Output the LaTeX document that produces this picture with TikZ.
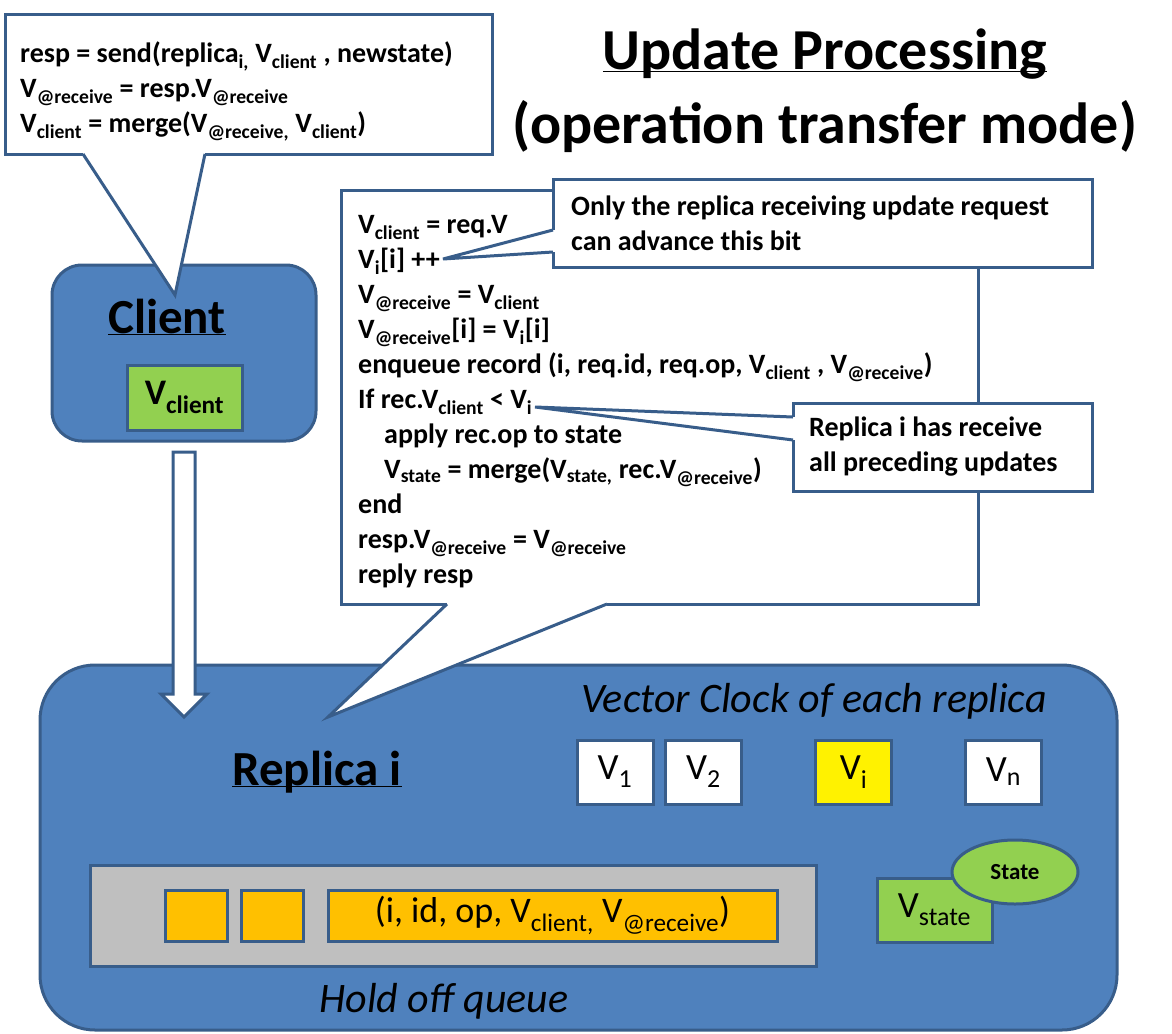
\documentclass[tikz,border=0pt]{standalone}
\usepackage{fontspec}
\setmainfont{Carlito}
\usetikzlibrary{shapes.geometric,shapes.arrows,calc}
\definecolor{boxblue}{HTML}{4F81BD}
\definecolor{lineblue}{HTML}{385D8A}
\definecolor{vgreen}{HTML}{92D050}
\definecolor{qorange}{HTML}{FFC000}
\definecolor{qgray}{HTML}{BFBFBF}
\newcommand{\lo}[1]{\textsubscript{#1}}
\newcommand{\underl}[1]{\underline{\smash{#1}}}

\begin{document}
\begin{tikzpicture}[x=1pt,y=-1pt]
      \tikzset{edge/.style={draw=lineblue, line width=3pt, outer sep=0pt},
        roundbox/.style={edge, fill=boxblue, rounded corners=#1, anchor=north west},
        callbox/.style={edge, fill=white, anchor=north west},
        cell/.style={edge, fill=#1, minimum width=76pt, minimum height=64pt,
          font=\fontsize{37}{40}\selectfont},
        slot/.style={edge, fill=qorange, minimum width=62pt, minimum height=51pt},
        codetext/.style={align=left, inner sep=0pt, font=\bfseries\fontsize{28}{35}\selectfont},
        bigname/.style={font=\bfseries\fontsize{49}{52}\selectfont},
        titletext/.style={font=\bfseries\fontsize{58}{64}\selectfont},
        note/.style={font=\itshape\fontsize{42}{46}\selectfont}
      }
      \useasboundingbox (0,0) rectangle (1172,1033);

      % replica i
      \node [roundbox=55pt, minimum width=1077pt, minimum height=365pt] (replica) at (40,665) {};
      \node [bigname, anchor=base] (replicaname) at (317,785) {\underl{Replica i}};
      \node [note, anchor=base] (clocklabel) at (814,712) {Vector Clock of each replica};
      \node [cell=white] (v1) at (615,772) {V\lo{1}};
      \node [cell=white] (v2) at (703.5,772) {V\lo{2}};
      \node [cell=yellow] (vi) at (853.5,772) {V\lo{i}};
      \node [cell=white] (vn) at (1003.5,772) {V\lo{n}};
      \node [edge, fill=qgray, minimum width=726pt, minimum height=101pt] (queue) at (453,915.5) {};
      \node [slot] (slot1) at (196,915.5) {};
      \node [slot] (slot2) at (272,915.5) {};
      \node [slot, minimum width=449pt, font=\fontsize{36}{38}\selectfont] (record) at (552.5,915.5)
        {(i, id, op, V\lo{client,} V\lo{@receive})};
      \node [note, anchor=base] (queuelabel) at (444,1012) {Hold off queue};
      \node [cell=vgreen, minimum width=115pt] (vstate) at (934.5,910) {V\lo{state}};
      \node [edge, ellipse, fill=vgreen, minimum width=126pt, minimum height=64pt, inner sep=0pt,
        font=\bfseries\fontsize{23}{26}\selectfont] (state) at (1015,872) {State};

      % client
      \node [roundbox=30pt, minimum width=264pt, minimum height=176pt] (client) at (52,265) {};
      \node [bigname, anchor=base] (clientname) at (167,333) {\underl{Client}};
      \node [cell=vgreen, minimum width=115pt, minimum height=65pt,
        font=\bfseries\fontsize{36}{40}\selectfont] (vclient) at (184.5,397.5) {V\lo{client}};

      % title
      \node [titletext, anchor=base] (title) at (825,70) {\underl{Update Processing}};
      \node [titletext, anchor=base] (mode) at (825,143) {(operation transfer mode)};

      % callouts
      \node [callbox, minimum width=487pt, minimum height=139pt] (sendbox) at (5,15) {};
      \node [callbox, minimum width=637pt, minimum height=414pt] (codebox) at (341,190) {};
      \node [callbox, minimum width=539pt, minimum height=88pt] (notebox) at (553,179) {};
      \node [callbox, minimum width=299pt, minimum height=88pt] (rcvbox) at (793,403) {};

      \coordinate (sendL) at ([xshift=78pt]sendbox.south west);
      \coordinate (sendR) at ([xshift=200pt]sendbox.south west);
      \coordinate (sendT) at (175,295);
      \coordinate (codeL) at ([xshift=106pt]codebox.south west);
      \coordinate (codeR) at ([xshift=266pt]codebox.south west);
      \coordinate (codeT) at (328,717);
      \coordinate (noteL) at ([yshift=-51pt]notebox.north west);
      \coordinate (noteR) at ([yshift=-73pt]notebox.north west);
      \coordinate (noteT) at (443,259);
      \coordinate (rcvL) at ([yshift=-14pt]rcvbox.north west);
      \coordinate (rcvR) at ([yshift=-37pt]rcvbox.north west);
      \coordinate (rcvT) at (535,407);
      \foreach \a/\b/\c in {sendL/sendT/sendR, codeL/codeT/codeR, noteL/noteT/noteR, rcvL/rcvT/rcvR} {
        \fill [white] (\a) -- (\b) -- (\c) -- cycle;
        \draw [white, line width=4pt] (\a) -- (\c);
        \draw [edge, line join=miter] (\a) -- (\b) -- (\c);
      }

      \node [codetext, anchor=west] (sendtext) at ([xshift=15pt, yshift=-7pt]sendbox.west)
        {resp = send(replica\lo{i,} V\lo{client} , newstate)\\
         V\lo{@receive} = resp.V\lo{@receive}\\
         V\lo{client} = merge(V\lo{@receive,} V\lo{client})};
      \node [codetext, anchor=west] (steps) at ([xshift=17pt, yshift=-5pt]codebox.west)
        {V\lo{client} = req.V\\
         V\lo{i}[i] ++\\
         V\lo{@receive} = V\lo{client}\\
         V\lo{@receive}[i] = V\lo{i}[i]\\
         enqueue record (i, req.id, req.op, V\lo{client} , V\lo{@receive})\\
         If rec.V\lo{client} < V\lo{i}\\
         \hspace*{26pt}apply rec.op to state\\
         \hspace*{26pt}V\lo{state} = merge(V\lo{state,} rec.V\lo{@receive})\\
         end\\
         resp.V\lo{@receive} = V\lo{@receive}\\
         reply resp};
      \node [codetext, anchor=west] (notetext) at ([xshift=18pt]notebox.west)
        {Only the replica receiving update request\\can advance this bit};
      \node [codetext, anchor=west] (rcvtext) at ([xshift=16pt]rcvbox.west)
        {Replica i has receive\\all preceding updates};

      % client to replica
      \node [single arrow, edge, fill=white, rotate=-90, anchor=tail, minimum height=265pt,
        inner xsep=0pt, inner ysep=9.5pt, single arrow head extend=12pt] (push)
        at ([yshift=-11pt]client.south) {};
    \end{tikzpicture}
\end{document}
